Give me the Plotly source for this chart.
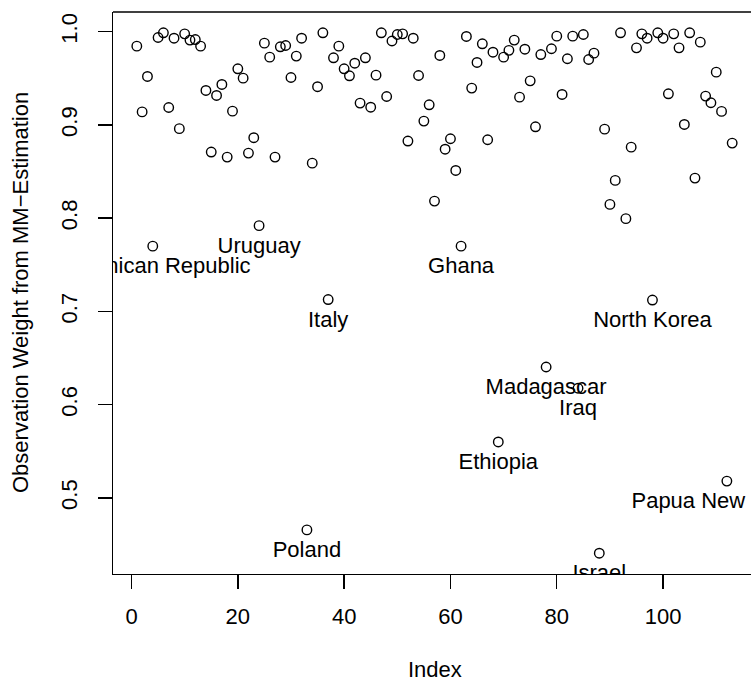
import plotly.graph_objects as go

# Observation weights (index 1..113)
weights = [
    0.9845, 0.914, 0.952, 0.770, 0.9938, 0.9988, 0.9187, 0.993, 0.896, 0.9977,
    0.991, 0.9916, 0.9845, 0.937, 0.8709, 0.9316, 0.9434, 0.8655, 0.9148, 0.9602,
    0.9502, 0.8698, 0.8863, 0.792, 0.9877, 0.9727, 0.8655, 0.9838, 0.9852, 0.9509,
    0.9738, 0.993, 0.4657, 0.859, 0.941, 0.9988, 0.7127, 0.972, 0.9845, 0.9602,
    0.9527, 0.9662, 0.9234, 0.972, 0.919, 0.9534, 0.9988, 0.9305, 0.990, 0.997,
    0.9977, 0.8827, 0.993, 0.953, 0.9041, 0.9216, 0.8183, 0.9745, 0.874, 0.8852,
    0.8512, 0.770, 0.9949, 0.9395, 0.967, 0.987, 0.8841, 0.978, 0.560, 0.9727,
    0.980, 0.991, 0.9298, 0.9812, 0.9473, 0.898, 0.9755, 0.6404, 0.9817, 0.9952,
    0.9327, 0.971, 0.9952, 0.6176, 0.997, 0.9702, 0.977, 0.4407, 0.8955, 0.8148,
    0.8405, 0.9988, 0.7995, 0.8762, 0.9827, 0.9977, 0.993, 0.7122, 0.9988, 0.993,
    0.9334, 0.9977, 0.9827, 0.9005, 0.9988, 0.843, 0.9888, 0.9309, 0.9238, 0.9566,
    0.9145, 0.518, 0.8805,
]
index = list(range(1, len(weights) + 1))

label_index = [4, 24, 33, 37, 62, 69, 78, 84, 88, 98, 112]
label_names = ["Dominican Republic", "Uruguay", "Poland", "Italy", "Ghana",
               "Ethiopia", "Madagascar", "Iraq", "Israel", "North Korea",
               "Papua New Guinea"]
label_weights = [weights[i - 1] for i in label_index]

x_ticks = [0, 20, 40, 60, 80, 100]
y_ticks = [0.5, 0.6, 0.7, 0.8, 0.9, 1.0]
y_tick_text = ["0.5", "0.6", "0.7", "0.8", "0.9", "1.0"]

FONT = "Liberation Sans, Arial, Helvetica, sans-serif"
FS = 22

# R-style axis limits (4% extension)
n = len(weights)
xr = n - 1
x_lo = 1 - 0.04 * xr
ymin, ymax = min(weights), max(weights)
yr = ymax - ymin
y_lo, y_hi = ymin - 0.04 * yr, ymax + 0.04 * yr

W, H = 751, 684
ML, MR, MT, MB = 113, 0, 12, 110
plot_w = W - ML - MR
plot_h = H - MT - MB
# full R plot region is wider than the picture; the right part is cropped
x_hi_full = n + 0.04 * xr
full_px = 643.0
px_per_unit = full_px / (x_hi_full - x_lo)
x_hi = x_lo + plot_w / px_per_unit

fig = go.Figure()
fig.add_trace(go.Scatter(
    x=index, y=weights, mode="markers",
    marker=dict(symbol="circle-open", size=9.5, color="black",
                line=dict(width=1.4, color="black")),
    cliponaxis=True, hoverinfo="skip", showlegend=False,
))
fig.add_trace(go.Scatter(
    x=label_index, y=label_weights, mode="markers+text",
    text=label_names, textposition="bottom center",
    textfont=dict(family=FONT, size=FS, color="black"),
    marker=dict(size=15.6, color="rgba(0,0,0,0)"),
    cliponaxis=True, hoverinfo="skip", showlegend=False,
))

fig.update_layout(
    width=W, height=H,
    margin=dict(l=ML, r=MR, t=MT, b=MB, pad=0),
    paper_bgcolor="white", plot_bgcolor="white",
    font=dict(family=FONT, size=FS, color="black"),
    showlegend=False,
    hovermode=False,
    xaxis=dict(range=[x_lo, x_hi], tickvals=x_ticks, ticks="outside",
               ticklen=13.5, tickwidth=1.4, tickcolor="black",
               showline=True, linecolor="black", linewidth=1.4,
               showgrid=False, zeroline=False, ticklabelstandoff=9,
               tickfont=dict(family=FONT, size=FS, color="black")),
    yaxis=dict(range=[y_lo, y_hi], tickvals=y_ticks, ticktext=y_tick_text,
               ticks="outside", ticklen=13.5, tickwidth=1.4, tickcolor="black",
               showline=True, linecolor="black", linewidth=1.4,
               showgrid=False, zeroline=False, tickangle=-90,
               ticklabelstandoff=12,
               tickfont=dict(family=FONT, size=FS, color="black")),
    shapes=[dict(type="line", xref="paper", yref="paper", x0=0, x1=1, y0=1, y1=1,
                 line=dict(color="black", width=1.4))],
    annotations=[
        dict(text="Index", xref="paper", yref="paper",
             x=(434.5 - ML) / plot_w, y=-(670 - (H - MB)) / plot_h,
             xanchor="center", yanchor="middle", showarrow=False,
             font=dict(family=FONT, size=FS, color="black")),
        dict(text="Observation Weight from MM\u2212Estimation", xref="paper", yref="paper",
             x=-(ML - 20) / plot_w, y=0.5, textangle=-90,
             xanchor="center", yanchor="middle", showarrow=False,
             font=dict(family=FONT, size=FS, color="black")),
    ],
)

fig.write_html("out.html",
               config={"displayModeBar": False, "staticPlot": True},
               post_script="document.body.style.margin='0px';document.body.style.overflow='hidden';")
